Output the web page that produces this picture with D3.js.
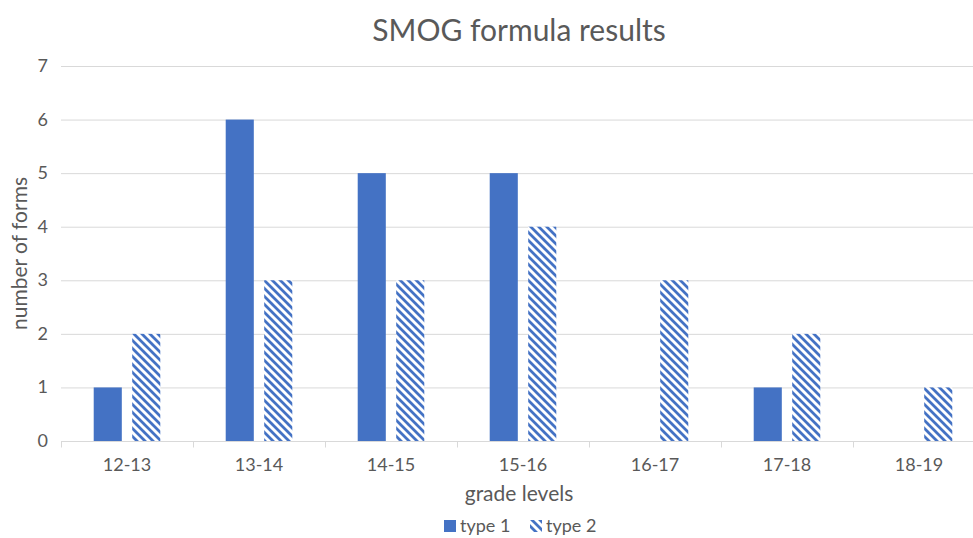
<!DOCTYPE html>
<html lang="en">
  <head>
    <meta charset="utf-8">
    <title>SMOG formula results</title>
    <script type="text/javascript" src="https://cdn.jsdelivr.net/npm/d3@7/dist/d3.min.js"></script>
    <style>
      body { margin: 0; background: #fff; overflow: hidden; }
      text { font-family: Lato, "Open Sans", sans-serif; fill: #595959; }
    </style>
  </head>

  <body>
    <script>
      // data
      var categories = ['12-13', '13-14', '14-15', '15-16', '16-17', '17-18', '18-19']
      var type1 = [1, 6, 5, 5, 0, 1, 0]
      var type2 = [2, 3, 3, 4, 3, 2, 1]
      var seriesNames = ['type 1', 'type 2']
      var yTicks = [0, 1, 2, 3, 4, 5, 6, 7]

      var width = 973, height = 538
      // plot runs a little past the right edge, as in the reference
      var margin = {top: 66, right: -12, bottom: 97, left: 61}
      var blue = '#4472c4'

      var svg = d3.select('body').append('svg').attr('width', width).attr('height', height)

      // wide downward diagonal pattern for type 2
      var defs = svg.append('defs')
      var pat = defs.append('pattern').attr('id', 'diag')
        .attr('patternUnits', 'userSpaceOnUse').attr('width', 8).attr('height', 8)
      pat.append('rect').attr('width', 8).attr('height', 8).attr('fill', '#fff')
      pat.append('path')
        .attr('d', 'M-2,-2 L10,10 M-2,6 L2,10 M6,-2 L10,2')
        .attr('stroke', blue).attr('stroke-width', 2.8)

      var x = d3.scaleBand().domain(categories).range([margin.left, width - margin.right])
      var x1 = d3.scaleBand().domain(seriesNames).range([0, x.bandwidth()]).paddingInner(0.27).paddingOuter(0.85)
      var y = d3.scaleLinear().domain([0, 7]).range([height - margin.bottom, margin.top])

      // gridlines
      svg.append('g').selectAll('line').data(yTicks.filter(function(d) { return d > 0 })).enter().append('line')
        .attr('x1', margin.left).attr('x2', width - margin.right)
        .attr('y1', function(d) { return y(d) + 0.5 }).attr('y2', function(d) { return y(d) + 0.5 })
        .attr('stroke', '#d9d9d9').attr('stroke-width', 1)

      // bars
      var series = [type1, type2]
      var fills = [blue, 'url(#diag)']
      series.forEach(function(vals, s) {
        svg.append('g').selectAll('rect').data(vals).enter().append('rect')
          .attr('x', function(d, i) { return x(categories[i]) + x1(seriesNames[s]) })
          .attr('width', x1.bandwidth())
          .attr('y', function(d) { return y(d) })
          .attr('height', function(d) { return y(0) - y(d) })
          .attr('fill', fills[s])
      })

      // y axis labels
      svg.append('g').selectAll('text').data(yTicks).enter().append('text')
        .attr('x', margin.left - 13).attr('y', function(d) { return y(d) + 6 })
        .attr('text-anchor', 'end').attr('font-size', 18)
        .text(function(d) { return d })

      // x axis
      var xAxis = svg.append('g').attr('transform', 'translate(0,' + (y(0) + 0.5) + ')')
      xAxis.append('line').attr('x1', margin.left).attr('x2', width - margin.right)
        .attr('stroke', '#d9d9d9')
      xAxis.selectAll('.tick').data(categories).enter().append('line')
        .attr('x1', function(d) { return Math.round(x(d)) + 0.5 }).attr('x2', function(d) { return Math.round(x(d)) + 0.5 })
        .attr('y1', 0).attr('y2', 6).attr('stroke', '#d9d9d9')
      xAxis.selectAll('text').data(categories).enter().append('text')
        .attr('x', function(d) { return x(d) + x.bandwidth() / 2 }).attr('y', 29)
        .attr('text-anchor', 'middle').attr('font-size', 18)
        .text(function(d) { return d })

      // titles
      svg.append('text').attr('x', 519).attr('y', 41).attr('text-anchor', 'middle')
        .attr('font-size', 30).text('SMOG formula results')
      svg.append('text').attr('x', 519).attr('y', 501).attr('text-anchor', 'middle')
        .attr('font-size', 21).text('grade levels')
      svg.append('text').attr('transform', 'translate(27,' + y(3.5) + ') rotate(-90)')
        .attr('text-anchor', 'middle').attr('font-size', 21).text('number of forms')

      // legend
      var legend = svg.append('g').attr('transform', 'translate(444,520)')
      var lx = [0, 86]
      seriesNames.forEach(function(name, s) {
        legend.append('rect').attr('x', lx[s]).attr('y', 0).attr('width', 12).attr('height', 12).attr('fill', fills[s])
        legend.append('text').attr('x', lx[s] + 16).attr('y', 12).attr('font-size', 18).text(name)
      })
    </script>
  </body>
</html>
